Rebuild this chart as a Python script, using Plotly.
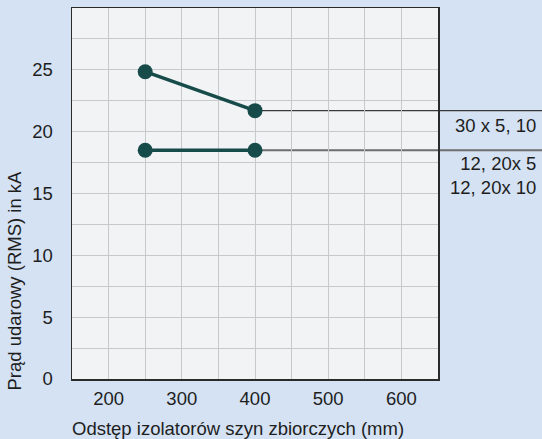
import plotly.graph_objects as go

# Data
x_upper = [250, 400]
y_upper = [24.85, 21.7]
x_lower = [250, 400]
y_lower = [18.5, 18.5]
series_labels = ["30 x 5, 10", "12, 20x 5<br>12, 20x 10"]
x_tickvals = [200, 300, 400, 500, 600]
y_tickvals = [0, 5, 10, 15, 20, 25]
x_range = [150, 650]
y_range = [0, 30]
x_title = "Odstęp izolatorów szyn zbiorczych (mm)"
y_title = "Prąd udarowy (RMS) in kA"

FONT = "Liberation Sans, Arial, sans-serif"
TEAL = "#174b4a"
BG = "#d4e2f3"
TXT = "#1e1e1e"
W, H = 542, 439
ML, MR, MT, MB = 72, 104, 6, 60

fig = go.Figure()
for xs, ys in [(x_upper, y_upper), (x_lower, y_lower)]:
    fig.add_trace(go.Scatter(
        x=xs, y=ys, mode="lines+markers",
        line=dict(color=TEAL, width=3.5),
        marker=dict(color=TEAL, size=15),
        showlegend=False, cliponaxis=False, hoverinfo="skip",
    ))

def xd(v):
    return (v - x_range[0]) / (x_range[1] - x_range[0])

def yd(v):
    return (v - y_range[0]) / (y_range[1] - y_range[0])

pw = W - ML - MR
ph = H - MT - MB
x_end = 1 + MR / pw  # to right edge of figure

def px_x(p):
    return (p - ML) / pw

def px_y(p):
    return 1 - (p - MT) / ph

shapes = [
    dict(type="line", xref="x domain", yref="y domain",
         x0=xd(x_upper[-1]), x1=x_end, y0=yd(y_upper[-1]), y1=yd(y_upper[-1]),
         line=dict(color="#3a3a3a", width=1.2), layer="below"),
    dict(type="line", xref="x domain", yref="y domain",
         x0=xd(x_lower[-1]), x1=x_end, y0=yd(y_lower[-1]), y1=yd(y_lower[-1]),
         line=dict(color="#6e6e6e", width=2), layer="below"),
]

annotations = [
    dict(text=series_labels[0], xref="paper", yref="paper",
         x=px_x(538), y=px_y(124),
         xanchor="right", yanchor="middle", showarrow=False,
         font=dict(family=FONT, size=18.5, color=TXT)),
    dict(text=series_labels[1], xref="paper", yref="paper",
         x=px_x(538), y=px_y(174),
         xanchor="right", yanchor="middle", showarrow=False, align="right",
         font=dict(family=FONT, size=18.5, color=TXT)),
    dict(text=y_title, xref="paper", yref="paper",
         x=px_x(15), y=px_y(280),
         xanchor="center", yanchor="middle", textangle=-90, showarrow=False,
         font=dict(family=FONT, size=18.5, color=TXT)),
    dict(text=x_title, xref="paper", yref="paper",
         x=px_x(238), y=px_y(429),
         xanchor="center", yanchor="middle", showarrow=False,
         font=dict(family=FONT, size=18.5, color=TXT)),
]

fig.update_layout(
    width=W, height=H,
    margin=dict(l=ML, r=MR, t=MT, b=MB, pad=0),
    paper_bgcolor=BG,
    plot_bgcolor="#f1f3f5",
    font=dict(family=FONT, size=18, color=TXT),
    shapes=shapes,
    annotations=annotations,
)
fig.update_xaxes(
    range=x_range, tickvals=x_tickvals, showgrid=True,
    gridcolor="#c8c9cb", gridwidth=1,
    minor=dict(dtick=50, tick0=150, showgrid=True, gridcolor="#c8c9cb", gridwidth=1),
    showline=True, linecolor="#2a2a2a", linewidth=1.5, mirror=True,
    ticks="", ticklabelstandoff=2, zeroline=False,
    tickfont=dict(size=18.5),
)
fig.update_yaxes(
    range=y_range, tickvals=y_tickvals, showgrid=True,
    gridcolor="#c8c9cb", gridwidth=1,
    minor=dict(dtick=2.5, tick0=0, showgrid=True, gridcolor="#c8c9cb", gridwidth=1),
    showline=True, linecolor="#2a2a2a", linewidth=1.5, mirror=True,
    ticks="", ticklabelstandoff=14, zeroline=False,
    tickfont=dict(size=18.5),
)

fig.write_html(
    "out.html",
    config={"displayModeBar": False, "staticPlot": True},
    post_script=(
        "document.body.style.margin='0';"
        "document.body.style.overflow='hidden';"
        "document.body.style.background='" + BG + "';"
    ),
)
